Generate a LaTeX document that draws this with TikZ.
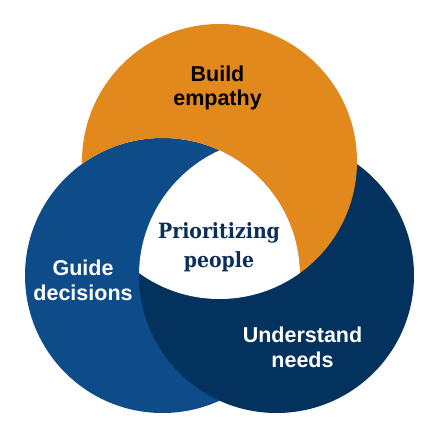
\documentclass[tikz,border=0pt]{standalone}
\usepackage{fontspec}
\newfontfamily\labfont{Liberation Sans}
\newfontfamily\centfont{DejaVu Serif Condensed}
\definecolor{orangec}{HTML}{E2891D}
\definecolor{bluec}{HTML}{0E4C89}
\definecolor{darkc}{HTML}{03325F}
\definecolor{navytext}{HTML}{0B2E5A}
\tikzset{
  lab/.style={font=\labfont\bfseries\fontsize{21.5}{24.5}\selectfont, align=center, inner sep=0pt},
  centlab/.style={font=\centfont\bfseries\fontsize{21}{28.5}\selectfont, text=navytext, align=center, inner sep=0pt}
}
\begin{document}
\begin{tikzpicture}[x=1pt,y=-1pt]
\useasboundingbox (0,0) rectangle (438,438);
\fill[white] (0,0) rectangle (438,438);
\coordinate (co) at (219.5,161.5);
\coordinate (cb) at (162.5,275.5);
\coordinate (cd) at (276.5,275.5);
\def\R{137.5pt}
% base circles
\fill[bluec] (cb) circle[radius=\R];
\fill[darkc] (cd) circle[radius=\R];
% orange only outside the blue circle
\begin{scope}[even odd rule]
  \clip (-10,-10) rectangle (448,448) (cb) circle[radius=\R];
  \fill[orangec] (co) circle[radius=\R];
\end{scope}
% white triple intersection
\begin{scope}
  \clip (co) circle[radius=\R];
  \clip (cb) circle[radius=\R];
  \fill[white] (cd) circle[radius=\R];
\end{scope}
\node[lab, text=black, anchor=base] (build) at (217.5,106) {Build\\empathy};
\node[lab, text=white, anchor=base] (guide) at (83,300) {Guide\\decisions};
\node[lab, text=white, anchor=base] (under) at (302.5,367) {Understand\\needs};
\node[centlab, anchor=base] (prior) at (219,267) {Prioritizing\\people};
\end{tikzpicture}
\end{document}
